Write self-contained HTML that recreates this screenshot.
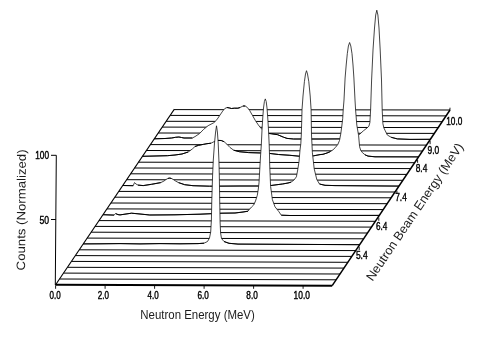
<!DOCTYPE html>
<html><head><meta charset="utf-8"><style>
html,body{margin:0;padding:0;background:#fff}
svg{display:block}
text{font-family:"Liberation Sans",sans-serif;fill:#000}
.ax text{fill:#1c1c1c}
.tk text{stroke:#000;stroke-width:0.4px}
svg{filter:blur(0.3px)}
</style></head><body>
<svg width="482" height="337" viewBox="0 0 482 337">
<rect width="482" height="337" fill="#fff"/>
<g>
<path d="M174.1 109.6 L450.0 110.0" stroke="#000" stroke-width="1.0" fill="none"/>
<path d="M170.2 115.4 L446.1 115.9" stroke="#000" stroke-width="1.0" fill="none"/>
<path d="M166.2 121.3 L442.1 121.7" stroke="#000" stroke-width="1.0" fill="none"/>
<path d="M162.2 127.1 L438.2 127.6" stroke="#000" stroke-width="1.0" fill="none"/>
<path d="M158.3 133.0 L434.3 133.4" stroke="#000" stroke-width="1.0" fill="none"/>
<path d="M154.3 138.8 L165.0 138.5 L171.6 138.0 L175.5 137.3 L178.9 137.0 L181.5 137.5 L184.0 138.0 L192.4 138.0 L195.0 136.6 L199.4 133.7 L203.7 129.3 L208.1 125.7 L213.9 122.7 L216.8 119.8 L219.7 115.5 L222.7 111.1 L224.8 108.5 L227.0 107.5 L229.2 107.9 L231.4 108.5 L234.3 108.2 L237.9 108.2 L240.1 107.5 L243.0 106.0 L245.2 106.0 L247.4 107.5 L249.6 110.4 L252.5 115.5 L255.4 120.6 L258.3 124.9 L261.2 128.6 L264.0 131.0 L268.3 133.4 L271.1 133.7 L277.6 134.7 L283.3 137.1 L287.0 138.4 L293.6 139.0 L300.0 139.0 L320.0 139.0 L340.0 138.9 L352.0 138.3 L358.6 135.2 L363.3 130.9 L367.0 128.0 L368.9 126.2 L369.9 122.5 L370.6 110.0 L371.6 80.0 L373.0 50.0 L374.5 28.0 L375.7 15.0 L376.8 10.2 L377.9 15.0 L379.0 28.0 L380.2 50.0 L381.5 80.0 L382.2 110.0 L382.9 123.7 L383.9 128.0 L385.3 130.9 L387.3 135.0 L391.2 137.3 L397.3 138.9 L410.0 139.4 L430.4 139.3 Z" fill="#fff" stroke="none"/>
<path d="M154.3 138.8 L165.0 138.5 L171.6 138.0 L175.5 137.3 L178.9 137.0 L181.5 137.5 L184.0 138.0 L192.4 138.0 L195.0 136.6 L199.4 133.7 L203.7 129.3 L208.1 125.7 L213.9 122.7 L216.8 119.8 L219.7 115.5 L222.7 111.1 L224.8 108.5 L227.0 107.5 L229.2 107.9 L231.4 108.5 L234.3 108.2 L237.9 108.2 L240.1 107.5 L243.0 106.0 L245.2 106.0 L247.4 107.5 L249.6 110.4 L252.5 115.5 L255.4 120.6 L258.3 124.9 L261.2 128.6 L264.0 131.0 L268.3 133.4 L271.1 133.7 L277.6 134.7 L283.3 137.1 L287.0 138.4 L293.6 139.0 L300.0 139.0 L320.0 139.0 L340.0 138.9 L352.0 138.3 L358.6 135.2 L363.3 130.9 L367.0 128.0 L368.9 126.2 L369.9 122.5 L370.6 110.0 L371.6 80.0 L373.0 50.0 L374.5 28.0 L375.7 15.0 L376.8 10.2 L377.9 15.0 L379.0 28.0 L380.2 50.0 L381.5 80.0 L382.2 110.0 L382.9 123.7 L383.9 128.0 L385.3 130.9 L387.3 135.0 L391.2 137.3 L397.3 138.9 L410.0 139.4 L430.4 139.3" fill="none" stroke="#151515" stroke-width="0.8" stroke-linejoin="round"/>
<path d="M154.3 138.8 L165.0 138.5 L171.6 138.0 L175.5 137.3 L178.9 137.0 L181.5 137.5 L184.0 138.0 L192.4 138.0" fill="none" stroke="#000" stroke-width="1.0" stroke-linejoin="round"/>
<path d="M227.0 107.5 L229.2 107.9 L231.4 108.5 L234.3 108.2 L237.9 108.2 L240.1 107.5" fill="none" stroke="#000" stroke-width="1.0" stroke-linejoin="round"/>
<path d="M243.0 106.0 L245.2 106.0" fill="none" stroke="#000" stroke-width="1.0" stroke-linejoin="round"/>
<path d="M268.3 133.4 L271.1 133.7 L277.6 134.7 L283.3 137.1 L287.0 138.4 L293.6 139.0 L300.0 139.0 L320.0 139.0 L340.0 138.9 L352.0 138.3" fill="none" stroke="#000" stroke-width="1.0" stroke-linejoin="round"/>
<path d="M391.2 137.3 L397.3 138.9 L410.0 139.4 L430.4 139.3" fill="none" stroke="#000" stroke-width="1.0" stroke-linejoin="round"/>
<path d="M150.4 144.6 L426.4 145.1" stroke="#000" stroke-width="1.0" fill="none"/>
<path d="M146.5 150.5 L422.5 151.0" stroke="#000" stroke-width="1.0" fill="none"/>
<path d="M142.5 156.3 L155.0 156.0 L167.4 155.7 L175.0 155.0 L182.0 154.0 L188.2 152.0 L192.4 148.9 L195.0 146.5 L198.6 145.3 L203.7 144.3 L207.0 143.7 L211.0 143.2 L214.2 141.6 L217.8 140.4 L221.2 140.5 L224.1 141.7 L227.0 144.3 L230.0 147.5 L233.7 150.2 L239.3 151.7 L248.7 152.6 L261.8 153.0 L269.3 153.4 L278.6 154.5 L289.9 155.3 L299.2 156.2 L313.7 155.8 L320.0 154.6 L323.0 154.3 L327.0 153.0 L330.5 151.5 L333.0 149.8 L335.2 147.7 L337.8 144.5 L339.5 140.5 L340.8 133.7 L341.8 126.0 L342.7 118.7 L343.2 110.0 L344.0 100.0 L345.1 78.0 L346.2 65.0 L347.3 53.7 L348.4 46.0 L349.6 42.5 L350.8 46.0 L352.0 53.7 L353.0 65.0 L353.9 78.0 L355.0 100.0 L355.6 110.0 L356.8 125.0 L358.6 135.5 L359.6 146.8 L360.8 150.5 L362.4 152.6 L365.0 154.8 L368.0 156.1 L375.0 156.8 L418.6 156.9 Z" fill="#fff" stroke="none"/>
<path d="M142.5 156.3 L155.0 156.0 L167.4 155.7 L175.0 155.0 L182.0 154.0 L188.2 152.0 L192.4 148.9 L195.0 146.5 L198.6 145.3 L203.7 144.3 L207.0 143.7 L211.0 143.2 L214.2 141.6 L217.8 140.4 L221.2 140.5 L224.1 141.7 L227.0 144.3 L230.0 147.5 L233.7 150.2 L239.3 151.7 L248.7 152.6 L261.8 153.0 L269.3 153.4 L278.6 154.5 L289.9 155.3 L299.2 156.2 L313.7 155.8 L320.0 154.6 L323.0 154.3 L327.0 153.0 L330.5 151.5 L333.0 149.8 L335.2 147.7 L337.8 144.5 L339.5 140.5 L340.8 133.7 L341.8 126.0 L342.7 118.7 L343.2 110.0 L344.0 100.0 L345.1 78.0 L346.2 65.0 L347.3 53.7 L348.4 46.0 L349.6 42.5 L350.8 46.0 L352.0 53.7 L353.0 65.0 L353.9 78.0 L355.0 100.0 L355.6 110.0 L356.8 125.0 L358.6 135.5 L359.6 146.8 L360.8 150.5 L362.4 152.6 L365.0 154.8 L368.0 156.1 L375.0 156.8 L418.6 156.9" fill="none" stroke="#151515" stroke-width="0.8" stroke-linejoin="round"/>
<path d="M142.5 156.3 L155.0 156.0 L167.4 155.7 L175.0 155.0 L182.0 154.0 L188.2 152.0" fill="none" stroke="#000" stroke-width="1.0" stroke-linejoin="round"/>
<path d="M195.0 146.5 L198.6 145.3 L203.7 144.3 L207.0 143.7 L211.0 143.2" fill="none" stroke="#000" stroke-width="1.0" stroke-linejoin="round"/>
<path d="M214.2 141.6 L217.8 140.4 L221.2 140.5 L224.1 141.7" fill="none" stroke="#000" stroke-width="1.0" stroke-linejoin="round"/>
<path d="M233.7 150.2 L239.3 151.7 L248.7 152.6 L261.8 153.0 L269.3 153.4 L278.6 154.5 L289.9 155.3 L299.2 156.2 L313.7 155.8 L320.0 154.6 L323.0 154.3 L327.0 153.0 L330.5 151.5" fill="none" stroke="#000" stroke-width="1.0" stroke-linejoin="round"/>
<path d="M365.0 154.8 L368.0 156.1 L375.0 156.8 L418.6 156.9" fill="none" stroke="#000" stroke-width="1.0" stroke-linejoin="round"/>
<path d="M138.5 162.2 L414.7 162.7" stroke="#000" stroke-width="1.0" fill="none"/>
<path d="M134.6 168.0 L410.7 168.6" stroke="#000" stroke-width="1.0" fill="none"/>
<path d="M130.7 173.8 L406.8 174.4" stroke="#000" stroke-width="1.0" fill="none"/>
<path d="M126.7 179.7 L402.9 180.3" stroke="#000" stroke-width="1.0" fill="none"/>
<path d="M122.8 185.5 L133.2 185.7 L134.5 182.6 L136.0 184.0 L138.0 185.1 L143.2 185.6 L151.5 184.3 L160.8 182.6 L164.0 181.0 L166.0 179.5 L168.0 178.4 L169.8 178.1 L171.5 178.5 L173.3 179.5 L175.5 181.0 L178.5 182.6 L184.7 184.7 L193.0 185.7 L209.6 186.2 L240.0 186.0 L260.0 186.0 L271.0 185.5 L282.4 184.0 L288.0 183.0 L291.0 182.2 L294.0 180.0 L296.4 176.8 L297.7 170.0 L299.0 161.7 L300.0 150.0 L300.8 143.9 L301.3 135.0 L301.7 122.0 L302.0 109.8 L303.0 96.0 L304.4 81.7 L305.5 74.0 L306.5 70.7 L307.5 74.0 L308.8 81.7 L310.2 96.0 L311.1 109.8 L311.5 135.0 L312.4 152.8 L314.2 168.8 L316.8 179.5 L319.5 184.0 L325.0 185.3 L335.0 185.6 L399.0 186.1 Z" fill="#fff" stroke="none"/>
<path d="M122.8 185.5 L133.2 185.7 L134.5 182.6 L136.0 184.0 L138.0 185.1 L143.2 185.6 L151.5 184.3 L160.8 182.6 L164.0 181.0 L166.0 179.5 L168.0 178.4 L169.8 178.1 L171.5 178.5 L173.3 179.5 L175.5 181.0 L178.5 182.6 L184.7 184.7 L193.0 185.7 L209.6 186.2 L240.0 186.0 L260.0 186.0 L271.0 185.5 L282.4 184.0 L288.0 183.0 L291.0 182.2 L294.0 180.0 L296.4 176.8 L297.7 170.0 L299.0 161.7 L300.0 150.0 L300.8 143.9 L301.3 135.0 L301.7 122.0 L302.0 109.8 L303.0 96.0 L304.4 81.7 L305.5 74.0 L306.5 70.7 L307.5 74.0 L308.8 81.7 L310.2 96.0 L311.1 109.8 L311.5 135.0 L312.4 152.8 L314.2 168.8 L316.8 179.5 L319.5 184.0 L325.0 185.3 L335.0 185.6 L399.0 186.1" fill="none" stroke="#151515" stroke-width="0.8" stroke-linejoin="round"/>
<path d="M122.8 185.5 L133.2 185.7" fill="none" stroke="#000" stroke-width="1.0" stroke-linejoin="round"/>
<path d="M138.0 185.1 L143.2 185.6 L151.5 184.3 L160.8 182.6" fill="none" stroke="#000" stroke-width="1.0" stroke-linejoin="round"/>
<path d="M168.0 178.4 L169.8 178.1 L171.5 178.5" fill="none" stroke="#000" stroke-width="1.0" stroke-linejoin="round"/>
<path d="M178.5 182.6 L184.7 184.7 L193.0 185.7 L209.6 186.2 L240.0 186.0 L260.0 186.0 L271.0 185.5 L282.4 184.0 L288.0 183.0 L291.0 182.2" fill="none" stroke="#000" stroke-width="1.0" stroke-linejoin="round"/>
<path d="M319.5 184.0 L325.0 185.3 L335.0 185.6 L399.0 186.1" fill="none" stroke="#000" stroke-width="1.0" stroke-linejoin="round"/>
<path d="M118.8 191.4 L395.0 192.0" stroke="#000" stroke-width="1.0" fill="none"/>
<path d="M114.8 197.2 L391.1 197.8" stroke="#000" stroke-width="1.0" fill="none"/>
<path d="M110.9 203.0 L387.2 203.7" stroke="#000" stroke-width="1.0" fill="none"/>
<path d="M107.0 208.9 L383.2 209.6" stroke="#000" stroke-width="1.0" fill="none"/>
<path d="M103.0 214.7 L114.0 215.1 L115.7 213.6 L118.0 214.6 L120.0 214.9 L126.0 214.0 L131.5 213.2 L138.0 213.8 L149.8 215.0 L165.0 214.9 L175.0 214.8 L200.0 214.2 L222.0 213.2 L235.0 213.0 L243.0 212.0 L248.0 211.2 L249.5 209.3 L251.5 207.0 L253.7 205.0 L255.5 201.0 L257.3 195.3 L258.3 189.0 L259.0 182.8 L260.0 165.0 L260.6 155.0 L261.3 145.0 L262.0 130.0 L262.8 117.0 L263.5 108.0 L264.4 101.5 L265.3 98.9 L266.2 101.5 L267.0 108.0 L267.7 117.0 L268.5 130.0 L269.2 145.0 L269.5 155.0 L269.7 165.0 L270.6 186.4 L272.4 199.7 L275.0 206.8 L278.6 211.3 L281.3 215.2 L290.0 215.5 L379.3 215.4 Z" fill="#fff" stroke="none"/>
<path d="M103.0 214.7 L114.0 215.1 L115.7 213.6 L118.0 214.6 L120.0 214.9 L126.0 214.0 L131.5 213.2 L138.0 213.8 L149.8 215.0 L165.0 214.9 L175.0 214.8 L200.0 214.2 L222.0 213.2 L235.0 213.0 L243.0 212.0 L248.0 211.2 L249.5 209.3 L251.5 207.0 L253.7 205.0 L255.5 201.0 L257.3 195.3 L258.3 189.0 L259.0 182.8 L260.0 165.0 L260.6 155.0 L261.3 145.0 L262.0 130.0 L262.8 117.0 L263.5 108.0 L264.4 101.5 L265.3 98.9 L266.2 101.5 L267.0 108.0 L267.7 117.0 L268.5 130.0 L269.2 145.0 L269.5 155.0 L269.7 165.0 L270.6 186.4 L272.4 199.7 L275.0 206.8 L278.6 211.3 L281.3 215.2 L290.0 215.5 L379.3 215.4" fill="none" stroke="#151515" stroke-width="0.8" stroke-linejoin="round"/>
<path d="M103.0 214.7 L114.0 215.1" fill="none" stroke="#000" stroke-width="1.0" stroke-linejoin="round"/>
<path d="M115.7 213.6 L118.0 214.6 L120.0 214.9 L126.0 214.0 L131.5 213.2 L138.0 213.8 L149.8 215.0 L165.0 214.9 L175.0 214.8 L200.0 214.2 L222.0 213.2 L235.0 213.0 L243.0 212.0 L248.0 211.2" fill="none" stroke="#000" stroke-width="1.0" stroke-linejoin="round"/>
<path d="M281.3 215.2 L290.0 215.5 L379.3 215.4" fill="none" stroke="#000" stroke-width="1.0" stroke-linejoin="round"/>
<path d="M99.0 220.6 L375.4 221.3" stroke="#000" stroke-width="1.0" fill="none"/>
<path d="M95.1 226.4 L371.5 227.1" stroke="#000" stroke-width="1.0" fill="none"/>
<path d="M91.2 232.2 L367.5 233.0" stroke="#000" stroke-width="1.0" fill="none"/>
<path d="M87.2 238.1 L363.6 238.8" stroke="#000" stroke-width="1.0" fill="none"/>
<path d="M83.2 243.9 L100.0 243.8 L120.0 243.6 L140.0 243.9 L160.0 243.6 L180.0 243.8 L198.0 243.6 L204.0 243.2 L207.5 241.5 L209.5 238.0 L210.7 232.0 L211.4 220.0 L211.8 200.0 L212.6 175.0 L213.3 160.0 L214.5 143.0 L215.6 132.0 L216.5 125.8 L217.4 132.0 L218.2 143.0 L218.9 160.0 L219.3 175.0 L219.7 200.0 L220.1 222.0 L220.6 233.0 L221.5 238.5 L224.0 241.5 L229.0 243.3 L238.0 244.1 L359.7 244.7 Z" fill="#fff" stroke="none"/>
<path d="M83.2 243.9 L100.0 243.8 L120.0 243.6 L140.0 243.9 L160.0 243.6 L180.0 243.8 L198.0 243.6 L204.0 243.2 L207.5 241.5 L209.5 238.0 L210.7 232.0 L211.4 220.0 L211.8 200.0 L212.6 175.0 L213.3 160.0 L214.5 143.0 L215.6 132.0 L216.5 125.8 L217.4 132.0 L218.2 143.0 L218.9 160.0 L219.3 175.0 L219.7 200.0 L220.1 222.0 L220.6 233.0 L221.5 238.5 L224.0 241.5 L229.0 243.3 L238.0 244.1 L359.7 244.7" fill="none" stroke="#151515" stroke-width="0.8" stroke-linejoin="round"/>
<path d="M83.2 243.9 L100.0 243.8 L120.0 243.6 L140.0 243.9 L160.0 243.6 L180.0 243.8 L198.0 243.6 L204.0 243.2" fill="none" stroke="#000" stroke-width="1.0" stroke-linejoin="round"/>
<path d="M224.0 241.5 L229.0 243.3 L238.0 244.1 L359.7 244.7" fill="none" stroke="#000" stroke-width="1.0" stroke-linejoin="round"/>
<path d="M79.3 249.8 L355.8 250.6" stroke="#000" stroke-width="1.0" fill="none"/>
<path d="M75.3 255.6 L351.8 256.4" stroke="#000" stroke-width="1.0" fill="none"/>
<path d="M71.4 261.4 L347.9 262.3" stroke="#000" stroke-width="1.0" fill="none"/>
<path d="M67.5 267.3 L344.0 268.1" stroke="#000" stroke-width="1.0" fill="none"/>
<path d="M63.5 273.1 L340.1 274.0" stroke="#000" stroke-width="1.0" fill="none"/>
<path d="M59.6 279.0 L336.1 279.8" stroke="#000" stroke-width="1.0" fill="none"/>
<path d="M55.6 284.8 L332.2 285.7" stroke="#000" stroke-width="2.0" fill="none"/>
<path d="M55.6 284.8 L174.1 109.6" stroke="#000" stroke-width="1.05" fill="none" stroke-linecap="square"/>
<path d="M332.2 285.7 L450.0 110.0" stroke="#000" stroke-width="1.5" fill="none" stroke-linecap="butt"/>
<path d="M55.3 285 L56.3 155.3 L51 155.3 M55.8 219.5 L51 219.5" stroke="#000" stroke-width="1" fill="none"/>
<path d="M55.6 285.5 L55.6 288.8" stroke="#000" stroke-width="0.9"/>
<path d="M105.1 285.5 L105.1 288.8" stroke="#000" stroke-width="0.9"/>
<path d="M154.6 285.5 L154.6 288.8" stroke="#000" stroke-width="0.9"/>
<path d="M204.1 285.5 L204.1 288.8" stroke="#000" stroke-width="0.9"/>
<path d="M253.6 285.5 L253.6 288.8" stroke="#000" stroke-width="0.9"/>
<path d="M303.1 285.5 L303.1 288.8" stroke="#000" stroke-width="0.9"/>
<path d="M359.2 246.8 v3.2" stroke="#000" stroke-width="0.9"/>
<path d="M378.8 217.6 v3.2" stroke="#000" stroke-width="0.9"/>
<path d="M396.9 190.6 v3.2" stroke="#000" stroke-width="0.9"/>
<path d="M417.6 159.6 v3.2" stroke="#000" stroke-width="0.9"/>
<path d="M430.1 141.0 v3.2" stroke="#000" stroke-width="0.9"/>
<path d="M449.9 110.3 l0.1 -2.6" stroke="#000" stroke-width="0.9"/>
</g>
<g class="tk">
<text x="49.6" y="299.4" font-size="10.5" textLength="11.2" lengthAdjust="spacingAndGlyphs" >0.0</text>
<text x="97.7" y="299.4" font-size="10.5" textLength="11.2" lengthAdjust="spacingAndGlyphs" >2.0</text>
<text x="147.5" y="299.4" font-size="10.5" textLength="11.2" lengthAdjust="spacingAndGlyphs" >4.0</text>
<text x="197.5" y="299.4" font-size="10.5" textLength="11.4" lengthAdjust="spacingAndGlyphs" >6.0</text>
<text x="246.3" y="299.4" font-size="10.5" textLength="11.5" lengthAdjust="spacingAndGlyphs" >8.0</text>
<text x="293.6" y="299.4" font-size="10.5" textLength="16.4" lengthAdjust="spacingAndGlyphs" >10.0</text>
<text x="35.2" y="159.2" font-size="10.5" textLength="13.8" lengthAdjust="spacingAndGlyphs" >100</text>
<text x="39.4" y="223.5" font-size="10.5" textLength="9.6" lengthAdjust="spacingAndGlyphs" >50</text>
<text x="355.9" y="259.2" font-size="10.5" textLength="11.8" lengthAdjust="spacingAndGlyphs" >5.4</text>
<text x="375.9" y="229.6" font-size="10.5" textLength="11.4" lengthAdjust="spacingAndGlyphs" >6.4</text>
<text x="395.2" y="200.8" font-size="10.5" textLength="11.6" lengthAdjust="spacingAndGlyphs" >7.4</text>
<text x="415.7" y="171.5" font-size="10.5" textLength="11.6" lengthAdjust="spacingAndGlyphs" >8.4</text>
<text x="427.6" y="153.5" font-size="10.5" textLength="11.7" lengthAdjust="spacingAndGlyphs" >9.0</text>
<text x="446.2" y="124.5" font-size="10.5" textLength="16.1" lengthAdjust="spacingAndGlyphs" >10.0</text>
</g>
<g class="ax">
<text x="140.3" y="318.8" font-size="12.3" textLength="114.5" lengthAdjust="spacingAndGlyphs" >Neutron Energy (MeV)</text>
<g transform="translate(25.0 270.4) rotate(-89.6)"><text x="0" y="0" font-size="12.2" textLength="121" lengthAdjust="spacingAndGlyphs" >Counts (Normalized)</text></g>
<g transform="translate(372.5 281.7) rotate(-55.9)"><text x="0" y="0" font-size="12.5" textLength="163" lengthAdjust="spacingAndGlyphs" >Neutron Beam Energy (MeV)</text></g>
</g>
</svg>
</body></html>
